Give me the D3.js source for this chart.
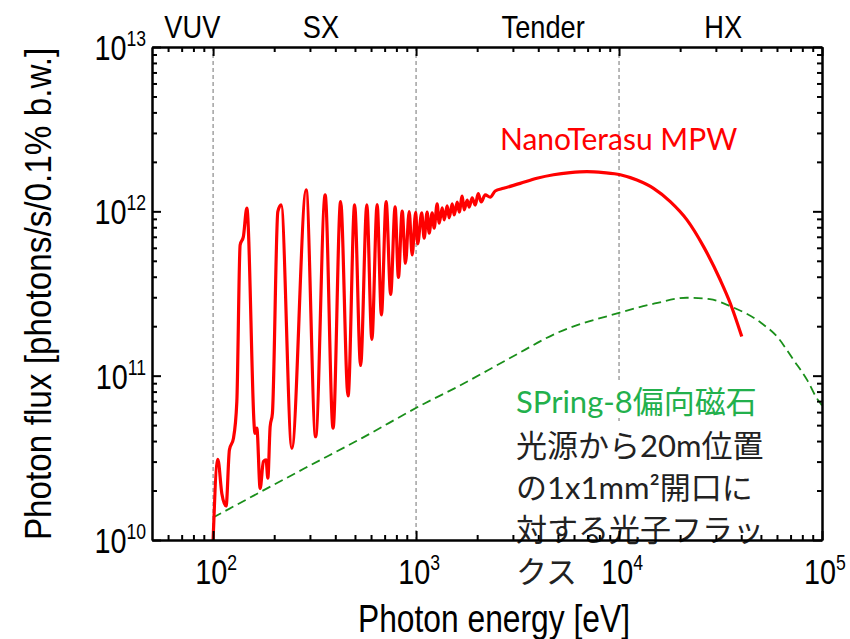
<!DOCTYPE html>
<html>
<head>
<meta charset="utf-8">
<script src="https://cdn.jsdelivr.net/npm/d3@7"></script>
<style>
  body { margin: 0; background: #fff; }
  svg { display: block; }
  .axis path, .axis line { stroke: #000; stroke-width: 2; }
  .num { font-family: "Liberation Sans", Arial, sans-serif; fill: #000; }
  .note { font-family: Lato, "Noto Sans CJK JP", sans-serif; }
</style>
</head>
<body>
<svg id="chart" width="850" height="639"></svg>
<script>
// NanoTerasu MPW flux (eV, photons/s/0.1% b.w.)
const nanoE = [100, 105.5, 110.4, 115.9, 120.3, 126, 130.9, 135.9, 141, 146.6,
  161, 164.3, 170.5, 177, 182.4, 186.1, 191, 196, 208.4, 216.4,
  244.3, 287.3, 320, 356.5, 390, 424.8, 462.4, 498, 533, 572,
  605.6, 643, 675, 712, 749.6, 788.5, 818.6, 854.4, 886.9, 924.7,
  956.8, 995.5, 1018, 1066, 1096, 1134, 1160, 1200, 1228, 1270,
  1300, 1345, 1376, 1423, 1456, 1507, 1541, 1595, 1632, 1688,
  1726, 1786, 1827, 1890, 1956, 2023, 2094, 2191, 2319, 2454,
  2696, 3258, 3939, 4756, 5747, 6947, 8388, 10140, 12250, 14790,
  17880, 21610, 26090, 31540, 35320, 40250];
const nanoF = [1.0e10, 3.10e10, 1.92e10, 1.61e10, 3.53e10, 4.16e10, 6.95e10, 6.24e11, 7.02e11, 1.045e12,
  4.46e10, 4.79e10, 2.06e10, 3.0e10, 3.07e10, 2.38e10, 4.9e10, 5.9e10, 9.96e11, 1.094e12,
  3.61e10, 1.35e12, 4.25e10, 1.26e12, 4.79e10, 1.146e12, 7.52e10, 1.094e12, 1.153e11, 1.094e12,
  1.66e11, 1.10e12, 2.34e11, 1.146e12, 3.12e11, 1.064e12, 3.96e11, 1.005e12, 4.83e11, 9.96e11,
  5.43e11, 9.85e11, 6.33e11, 9.78e11, 6.86e11, 9.91e11, 7.36e11, 9.78e11, 7.89e11, 1.109e12,
  8.47e11, 1.05e12, 8.87e11, 1.08e12, 9.12e11, 1.11e12, 9.5e11, 1.14e12, 9.9e11, 1.24e12,
  1.02e12, 1.17e12, 1.06e12, 1.21e12, 1.09e12, 1.28e12, 1.14e12, 1.26e12, 1.22e12, 1.33e12,
  1.38e12, 1.48e12, 1.59e12, 1.67e12, 1.72e12, 1.744e12, 1.72e12, 1.67e12, 1.55e12, 1.38e12,
  1.146e12, 8.87e11, 6.1e11, 3.82e11, 2.76e11, 1.73e11];

// SPring-8 bending magnet flux
const bmE = [100, 284, 541, 1107, 1556, 2904, 5000, 10000, 15000, 21580,
  28000, 35240, 50000, 60000, 72300, 85000, 94200, 100000];
const bmF = [1.37e10, 2.74e10, 4.17e10, 6.8e10, 8.4e10, 1.28e11, 1.83e11, 2.41e11, 2.75e11, 2.98e11,
  2.92e11, 2.65e11, 2.1e11, 1.73e11, 1.25e11, 9.3e10, 7.3e10, 6.6e10];

const xMajor = [1e2, 1e3, 1e4, 1e5];
const yMajor = [1e10, 1e11, 1e12, 1e13];
const regionDividers = [1e2, 1e3, 1e4];
const regionNames = ["VUV", "SX", "Tender", "HX"];
const regionAt = [79, 340, 4230, 32600];
const nanoLabel = "NanoTerasu MPW";
const bmLabel = "SPring-8偏向磁石";
const bmNote = ["光源から20m位置", "の1x1mm²開口に", "対する光子フラッ", "クス"];

const svg = d3.select("#chart");
const m = { left: 152, right: 822, top: 47, bottom: 540 };

const x = d3.scaleLog().domain([50, 1e5]).range([m.left, m.right]);
const y = d3.scaleLog().domain([1e10, 1e13]).range([m.bottom, m.top]);

function minors(lo, hi) {
  const out = [];
  for (let p = lo; p < hi; p *= 10)
    for (let k = 2; k <= 9; k++) out.push(k * p);
  return out;
}
const xMinor = minors(10, 1e5).filter(v => v > 50 && v < 1e5);
const yMinor = minors(1e10, 1e13);

svg.append("clipPath").attr("id", "plot")
  .append("rect").attr("x", m.left).attr("y", m.top)
  .attr("width", m.right - m.left).attr("height", m.bottom - m.top);

// region divider lines
svg.append("g").selectAll("line")
  .data(regionDividers)
  .join("line")
  .attr("x1", d => x(d)).attr("x2", d => x(d))
  .attr("y1", m.top).attr("y2", m.bottom)
  .attr("stroke", "#8a8a8a").attr("stroke-width", 1.2)
  .attr("stroke-dasharray", "4,3");

const plot = svg.append("g").attr("clip-path", "url(#plot)");

const bmLine = d3.line().x(d => x(d[0])).y(d => y(d[1])).curve(d3.curveMonotoneX);
plot.append("path")
  .attr("d", bmLine(d3.zip(bmE, bmF)))
  .attr("fill", "none").attr("stroke", "#1a8f1a")
  .attr("stroke-width", 1.8).attr("stroke-dasharray", "9,5");

const nanoLine = d3.line().x(d => x(d[0])).y(d => y(d[1])).curve(d3.curveMonotoneX);
plot.append("path")
  .attr("d", nanoLine(d3.zip(nanoE, nanoF)))
  .attr("fill", "none").attr("stroke", "#ff0000")
  .attr("stroke-width", 3.2).attr("stroke-linejoin", "round");

// annotation boxes
svg.append("rect").attr("x", 510).attr("y", 383).attr("width", 245).attr("height", 32).attr("fill", "#fff");
svg.append("rect").attr("x", 510).attr("y", 421).attr("width", 260).attr("height", 119).attr("fill", "#fff");

svg.append("text").attr("class", "note")
  .attr("x", 500).attr("y", 150)
  .attr("font-size", 30).attr("fill", "#ff0000")
  .text(nanoLabel);

svg.append("text").attr("class", "note")
  .attr("x", 516).attr("y", 413)
  .attr("font-size", 31).attr("fill", "#22b04c")
  .text(bmLabel);

svg.append("g").selectAll("text")
  .data(bmNote)
  .join("text")
  .attr("class", "note")
  .attr("x", 516).attr("y", (d, i) => 457 + i * 42)
  .attr("font-size", 31).attr("fill", "#222")
  .text(d => d);

// axes: ticks point inward on all four sides
function frame(gen, tr, vals, size) {
  svg.append("g").attr("class", "axis").attr("transform", tr)
    .call(gen.tickValues(vals).tickSizeInner(size).tickSizeOuter(0).tickFormat(""));
}
frame(d3.axisBottom(x), `translate(0,${m.bottom})`, xMinor, -5);
frame(d3.axisBottom(x), `translate(0,${m.bottom})`, xMajor, -9);
frame(d3.axisTop(x), `translate(0,${m.top})`, xMinor, -5);
frame(d3.axisTop(x), `translate(0,${m.top})`, xMajor, -9);
frame(d3.axisLeft(y), `translate(${m.left},0)`, yMinor, -5);
frame(d3.axisLeft(y), `translate(${m.left},0)`, yMajor, -9);
frame(d3.axisRight(y), `translate(${m.right},0)`, yMinor, -5);
frame(d3.axisRight(y), `translate(${m.right},0)`, yMajor, -9);

// tick labels 10^n, narrowed like the original condensed face
const xl = svg.append("g").selectAll("text")
  .data(xMajor).join("text")
  .attr("class", "num").attr("text-anchor", "middle")
  .attr("transform", d => `translate(${x(d) + 3},584) scale(0.8,1)`)
  .attr("font-size", 36);
xl.append("tspan").text("10");
xl.append("tspan").attr("font-size", 22).attr("dy", -14).text(d => Math.round(Math.log10(d)));

const yl = svg.append("g").selectAll("text")
  .data(yMajor).join("text")
  .attr("class", "num").attr("text-anchor", "end")
  .attr("transform", d => `translate(146,${y(d) + 13}) scale(0.8,1)`)
  .attr("font-size", 36);
yl.append("tspan").text("10");
yl.append("tspan").attr("font-size", 22).attr("dy", -14).text(d => Math.round(Math.log10(d)));

// region names along top
svg.append("g").selectAll("text")
  .data(regionNames).join("text")
  .attr("class", "num").attr("text-anchor", "middle")
  .attr("transform", (d, i) => `translate(${x(regionAt[i])},38) scale(0.85,1)`)
  .attr("font-size", 32)
  .text(d => d);

svg.append("text").attr("class", "num")
  .attr("text-anchor", "middle")
  .attr("x", 494).attr("y", 632)
  .attr("font-size", 38)
  .attr("textLength", 272).attr("lengthAdjust", "spacingAndGlyphs")
  .text("Photon energy [eV]");

// y title: squeeze along the text direction with a scale instead of textLength
svg.append("text").attr("class", "num")
  .attr("text-anchor", "middle")
  .attr("transform", "translate(51,294) rotate(-90) scale(0.9,1)")
  .attr("font-size", 37)
  .text("Photon flux [photons/s/0.1% b.w.]");
</script>
</body>
</html>
